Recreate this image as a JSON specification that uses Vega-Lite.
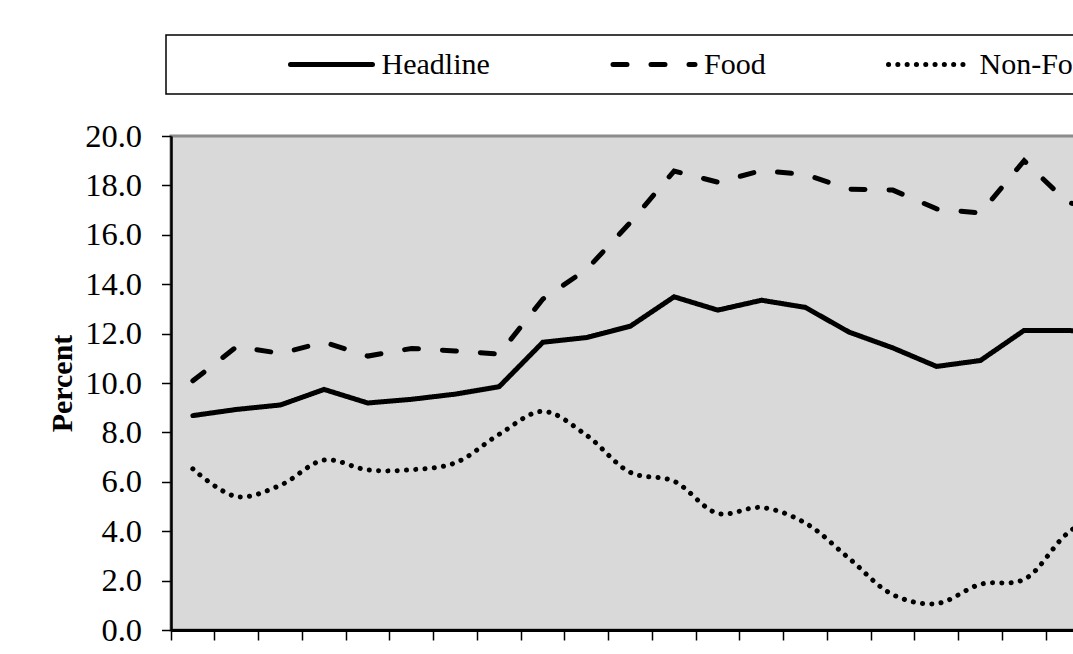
{
  "$schema": "https://vega.github.io/schema/vega-lite/v6.json",
  "autosize": {"type": "none"},
  "padding": {"left": 171, "top": 136, "right": 10, "bottom": 40},
  "width": 1050,
  "height": 494,
  "background": "white",
  "config": {
    "font": "Liberation Serif",
    "view": {"fill": "#d9d9d9", "stroke": "#8c8c8c", "strokeWidth": 3},
    "legend": {"strokeWidth": 1.5}
  },
  "datasets": {
    "inflation": [
      {"t": 1, "series": "Headline", "value": 8.68}, {"t": 2, "series": "Headline", "value": 8.93},
      {"t": 3, "series": "Headline", "value": 9.11}, {"t": 4, "series": "Headline", "value": 9.74},
      {"t": 5, "series": "Headline", "value": 9.19}, {"t": 6, "series": "Headline", "value": 9.34},
      {"t": 7, "series": "Headline", "value": 9.55}, {"t": 8, "series": "Headline", "value": 9.85},
      {"t": 9, "series": "Headline", "value": 11.65}, {"t": 10, "series": "Headline", "value": 11.84},
      {"t": 11, "series": "Headline", "value": 12.3}, {"t": 12, "series": "Headline", "value": 13.49},
      {"t": 13, "series": "Headline", "value": 12.95}, {"t": 14, "series": "Headline", "value": 13.35},
      {"t": 15, "series": "Headline", "value": 13.06}, {"t": 16, "series": "Headline", "value": 12.06},
      {"t": 17, "series": "Headline", "value": 11.42}, {"t": 18, "series": "Headline", "value": 10.67},
      {"t": 19, "series": "Headline", "value": 10.91}, {"t": 20, "series": "Headline", "value": 12.13},
      {"t": 21, "series": "Headline", "value": 12.13}, {"t": 22, "series": "Headline", "value": 12.0},
      {"t": 23, "series": "Headline", "value": 11.8}, {"t": 24, "series": "Headline", "value": 11.5},
      {"t": 1, "series": "Food", "value": 10.09}, {"t": 2, "series": "Food", "value": 11.47},
      {"t": 3, "series": "Food", "value": 11.2}, {"t": 4, "series": "Food", "value": 11.65},
      {"t": 5, "series": "Food", "value": 11.09}, {"t": 6, "series": "Food", "value": 11.4},
      {"t": 7, "series": "Food", "value": 11.3}, {"t": 8, "series": "Food", "value": 11.17},
      {"t": 9, "series": "Food", "value": 13.4}, {"t": 10, "series": "Food", "value": 14.6},
      {"t": 11, "series": "Food", "value": 16.5}, {"t": 12, "series": "Food", "value": 18.58},
      {"t": 13, "series": "Food", "value": 18.13}, {"t": 14, "series": "Food", "value": 18.6},
      {"t": 15, "series": "Food", "value": 18.44}, {"t": 16, "series": "Food", "value": 17.85},
      {"t": 17, "series": "Food", "value": 17.81}, {"t": 18, "series": "Food", "value": 17.05},
      {"t": 19, "series": "Food", "value": 16.88}, {"t": 20, "series": "Food", "value": 19.0},
      {"t": 21, "series": "Food", "value": 17.3}, {"t": 22, "series": "Food", "value": 17.0},
      {"t": 23, "series": "Food", "value": 16.8}, {"t": 24, "series": "Food", "value": 16.5},
      {"t": 1, "series": "Non-Food", "value": 6.52}, {"t": 2, "series": "Non-Food", "value": 5.4},
      {"t": 3, "series": "Non-Food", "value": 5.86}, {"t": 4, "series": "Non-Food", "value": 6.88},
      {"t": 5, "series": "Non-Food", "value": 6.48}, {"t": 6, "series": "Non-Food", "value": 6.49},
      {"t": 7, "series": "Non-Food", "value": 6.77}, {"t": 8, "series": "Non-Food", "value": 7.92},
      {"t": 9, "series": "Non-Food", "value": 8.85}, {"t": 10, "series": "Non-Food", "value": 7.88},
      {"t": 11, "series": "Non-Food", "value": 6.38}, {"t": 12, "series": "Non-Food", "value": 6.02},
      {"t": 13, "series": "Non-Food", "value": 4.72}, {"t": 14, "series": "Non-Food", "value": 4.96},
      {"t": 15, "series": "Non-Food", "value": 4.33}, {"t": 16, "series": "Non-Food", "value": 2.9},
      {"t": 17, "series": "Non-Food", "value": 1.43}, {"t": 18, "series": "Non-Food", "value": 1.07},
      {"t": 19, "series": "Non-Food", "value": 1.85}, {"t": 20, "series": "Non-Food", "value": 2.05},
      {"t": 21, "series": "Non-Food", "value": 3.93}, {"t": 22, "series": "Non-Food", "value": 5.0},
      {"t": 23, "series": "Non-Food", "value": 5.5}, {"t": 24, "series": "Non-Food", "value": 5.6}
    ]
  },
  "data": {"name": "inflation"},
  "encoding": {
    "x": {
      "field": "t", "type": "ordinal",
      "scale": {"type": "band", "paddingInner": 0, "paddingOuter": 0},
      "axis": {
        "title": null, "labels": false, "bandPosition": 0,
        "domainColor": "black", "domainWidth": 3,
        "tickColor": "black", "tickWidth": 1.5, "tickSize": 10, "grid": false
      }
    },
    "y": {
      "field": "value", "type": "quantitative",
      "scale": {"domain": [0, 20], "nice": false, "zero": true},
      "axis": {
        "title": "Percent", "titleFont": "Liberation Serif", "titleFontSize": 30,
        "titleFontWeight": "bold", "titleColor": "black", "titlePadding": 7,
        "values": [0, 2, 4, 6, 8, 10, 12, 14, 16, 18, 20], "format": ".1f",
        "labelFont": "Liberation Serif", "labelFontSize": 32.5, "labelColor": "black",
        "labelPadding": 20, "grid": false,
        "domainColor": "black", "domainWidth": 2.5,
        "tickColor": "black", "tickWidth": 1.5, "tickSize": 9.5
      }
    },
    "strokeDash": {
      "field": "series", "type": "nominal",
      "scale": {
        "domain": ["Headline", "Food", "Non-Food"],
        "range": [[1, 0], [14, 24], [0.1, 9.2]]
      },
      "legend": {
        "orient": "none", "legendX": -5, "legendY": -101,
        "direction": "horizontal",
        "title": " ", "titleOrient": "left", "titleFontSize": 1, "titlePadding": 105,
        "fillColor": "white", "strokeColor": "black",
        "padding": 14.5,
        "symbolType": "M-4.1,0H4.1", "symbolSize": 400, "symbolStrokeWidth": 5,
        "symbolOffset": 31,
        "symbolStrokeColor": "black",
        "labelFont": "Liberation Serif", "labelFontSize": 30, "labelColor": "black",
        "labelOffset": 35, "columnPadding": 112.5, "labelLimit": 400,
        "encode": {"symbols": {"update": {"strokeCap": {"value": "round"}}}}
      }
    }
  },
  "layer": [
    {
      "transform": [{"filter": "datum.series !== 'Non-Food'"}],
      "mark": {"type": "line", "stroke": "black", "strokeWidth": 5, "strokeCap": "round", "strokeJoin": "miter"}
    },
    {
      "transform": [{"filter": "datum.series === 'Non-Food'"}],
      "mark": {"type": "line", "stroke": "black", "strokeWidth": 5, "strokeCap": "round", "interpolate": "catmull-rom"}
    }
  ]
}
